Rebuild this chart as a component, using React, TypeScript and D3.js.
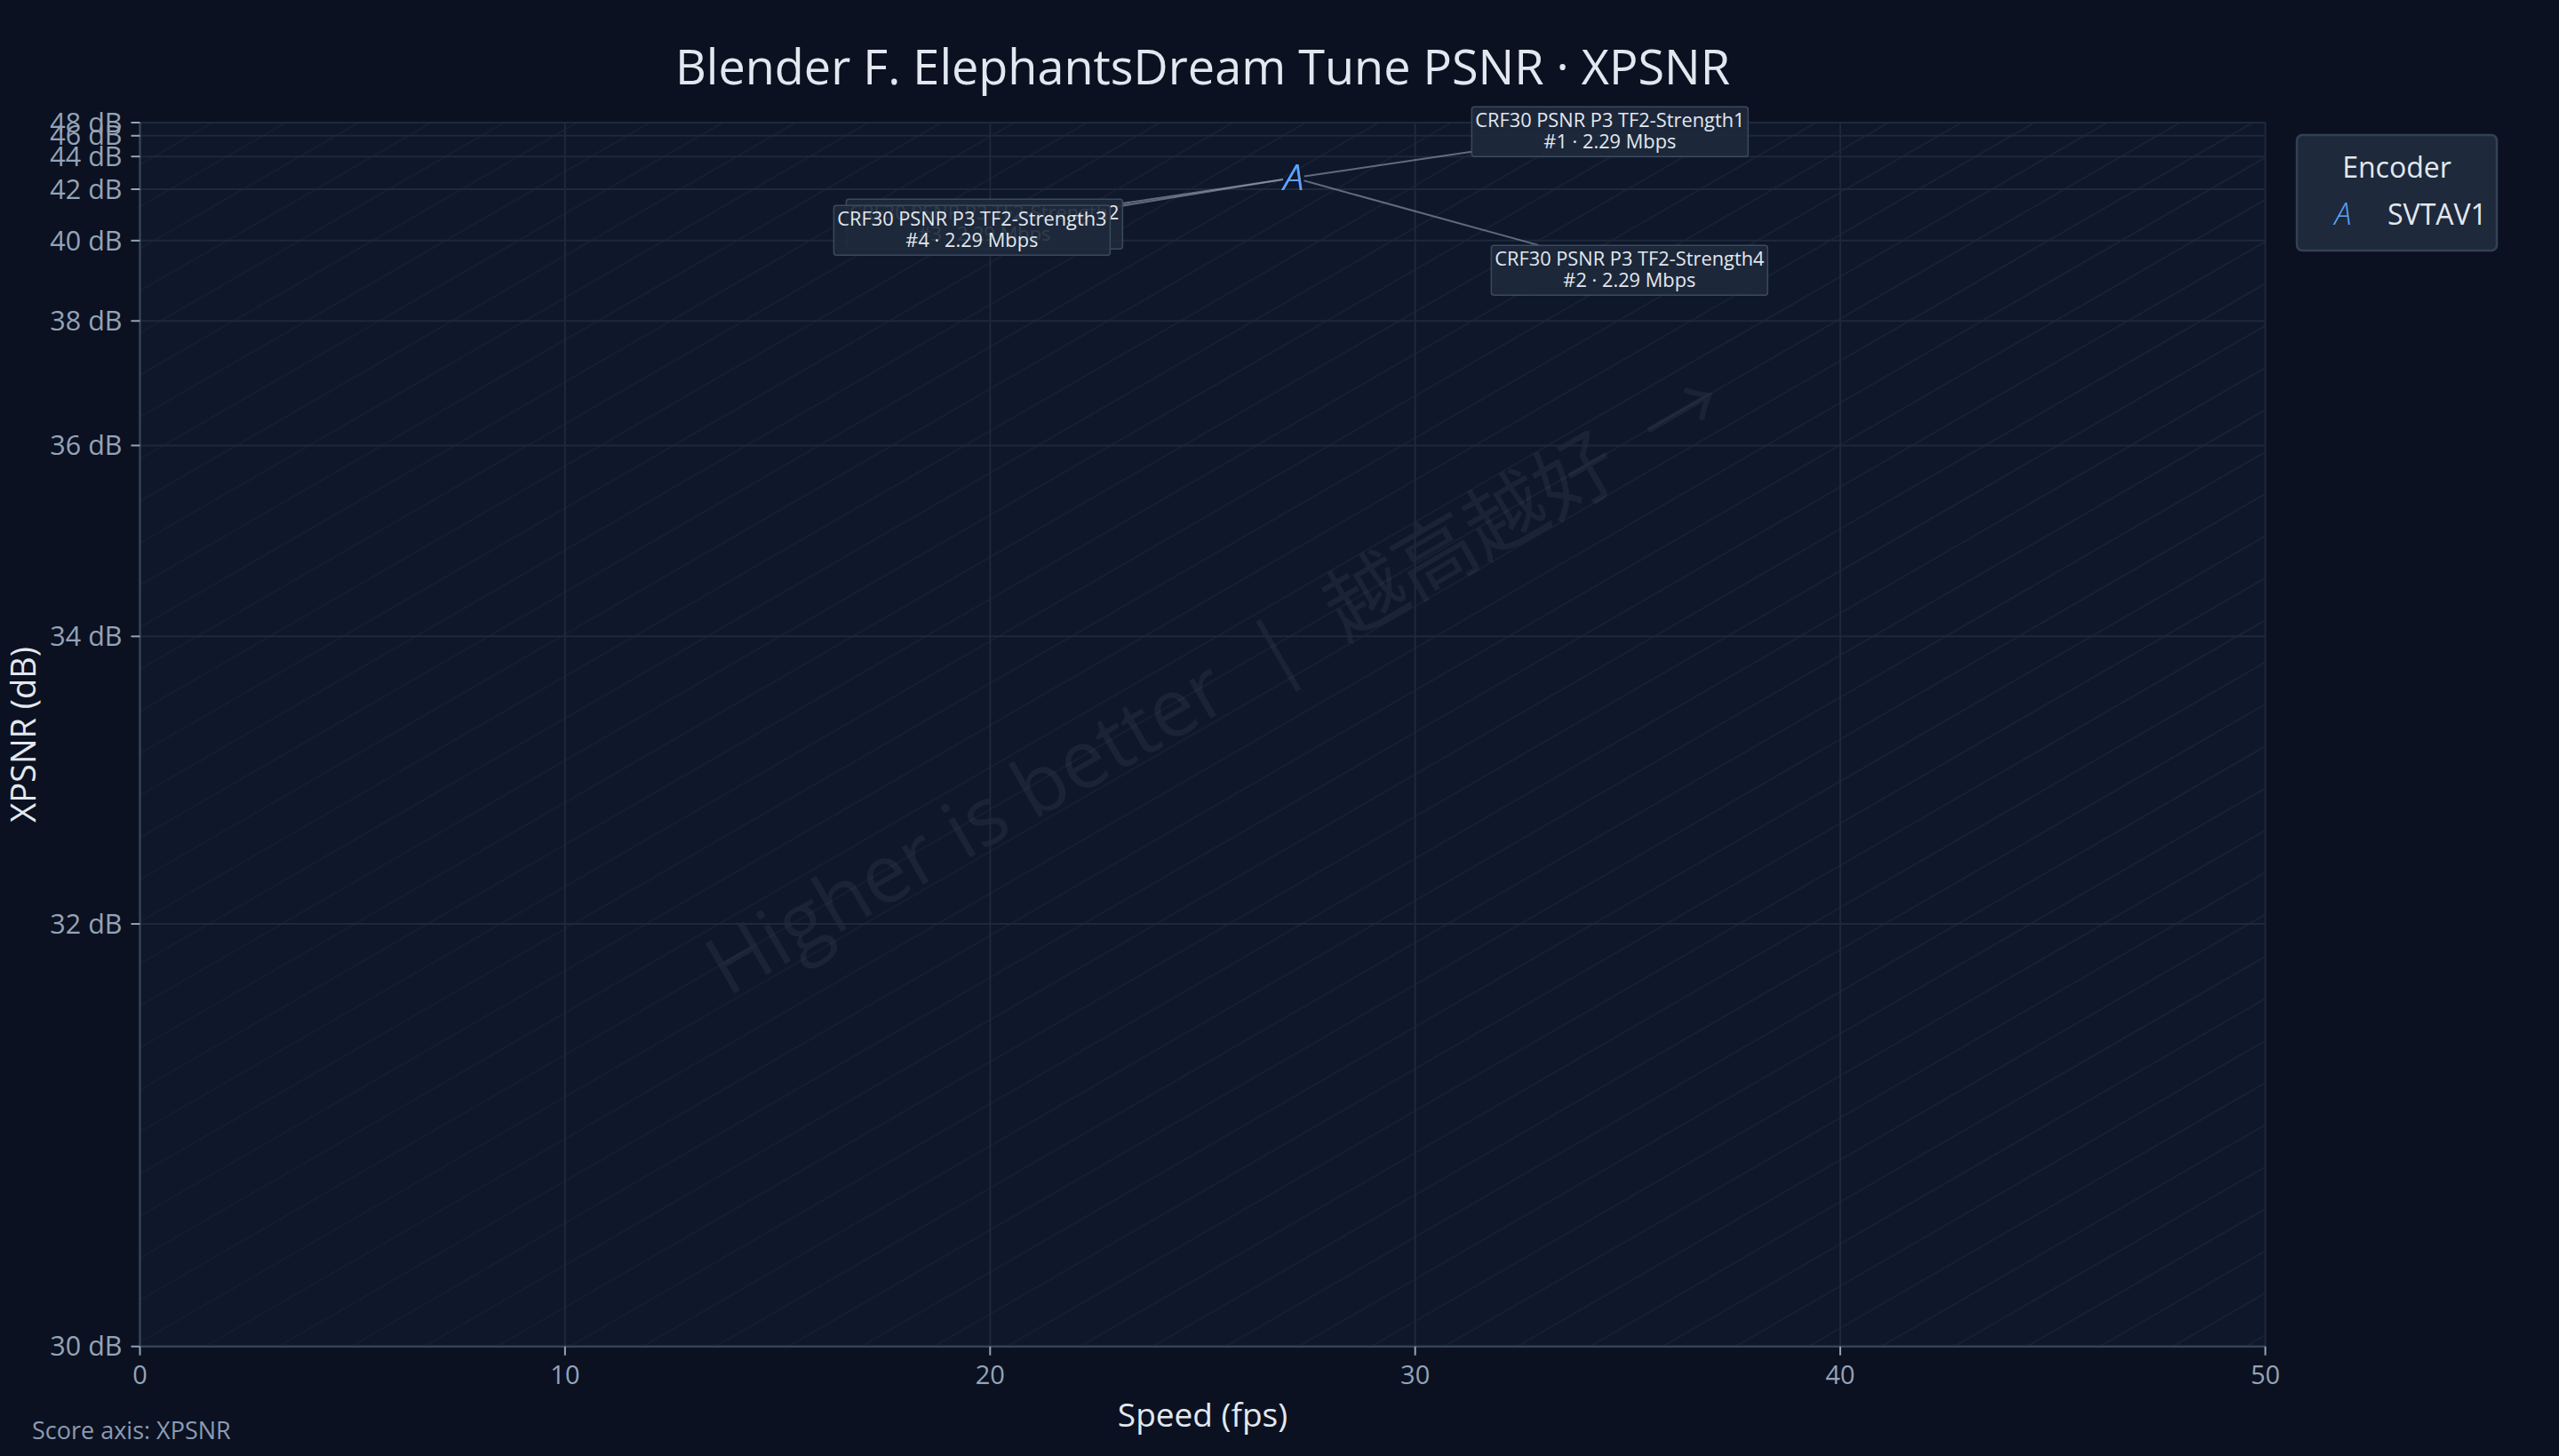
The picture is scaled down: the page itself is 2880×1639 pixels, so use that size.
import { useEffect } from 'react'
import * as d3 from 'd3'

// chart data
const title = 'Blender F. ElephantsDream Tune PSNR · XPSNR'
const encoders = ['SVTAV1']
const encoderSymbols = ['A']
const pointNames = [
  'CRF30 PSNR P3 TF2-Strength1',
  'CRF30 PSNR P3 TF2-Strength4',
  'CRF30 PSNR P3 TF2-Strength2',
  'CRF30 PSNR P3 TF2-Strength3',
]
const pointRanks = [1, 2, 3, 4]
const pointSpeed = [27.14, 27.14, 27.14, 27.14]
const pointXpsnr = [42.6, 42.6, 42.6, 42.6]
const pointBitrate = [2.29, 2.29, 2.29, 2.29]
const xTicks = [0, 10, 20, 30, 40, 50]
const yTicks = [30, 32, 34, 36, 38, 40, 42, 44, 46, 48]

// label placement (box centre offset from the point, px)
const labelOffsets: [number, number][] = [
  [356, -52],
  [378, 104],
  [-348, 52],
  [-362, 59],
]

const W = 2880
const H = 1639
const M = { left: 157.5, right: 2549.5, top: 138, bottom: 1515.7 }
const FONT = '"Segoe UI", "Open Sans", "Noto Sans", "Noto Sans CJK SC", sans-serif'

// PSNR axis is drawn on an error-like scale: linear near 0, log further out
const mse = (db: number) => Math.pow(10, -db / 10) * 1e5

export default function App() {
  useEffect(() => {
    document.body.style.margin = '0'
    document.body.style.background = '#0b1120'
  }, [])

  const x = d3.scaleLinear().domain([0, 50]).range([M.left, M.right])
  const ySym = d3.scaleSymlog().constant(330).domain([mse(48), mse(30)]).range([M.top, M.bottom])
  const y = (v: number) => ySym(mse(v))

  const boxW = 311
  const boxH = 56

  // diagonal hatch lines behind the data
  const ang = (30 * Math.PI) / 180
  const run = (M.bottom - M.top) / Math.tan(ang)
  const hatch = d3.range(M.left - run, M.right + 80, 82)

  const cx = (M.left + M.right) / 2
  const cy = (M.top + M.bottom) / 2
  const wx = cx + 30
  const wy = cy - 30

  return (
    <svg width={W} height={H} style={{ display: 'block', background: '#0b1120' }} fontFamily={FONT}>
      <defs>
        <clipPath id="plotClip">
          <rect x={M.left} y={M.top} width={M.right - M.left} height={M.bottom - M.top} />
        </clipPath>
        <linearGradient id="hatchGrad" gradientUnits="userSpaceOnUse" x1={M.left} y1={M.bottom} x2={M.right} y2={M.top}>
          <stop offset="0%" stopColor="#94a3b8" stopOpacity={0.035} />
          <stop offset="100%" stopColor="#94a3b8" stopOpacity={0.08} />
        </linearGradient>
      </defs>

      <rect x={M.left} y={M.top} width={M.right - M.left} height={M.bottom - M.top} fill="#0f172a" />

      <g clipPath="url(#plotClip)">
        {hatch.map((x0, i) => (
          <line key={i} x1={x0} y1={M.bottom} x2={x0 + run} y2={M.top} stroke="url(#hatchGrad)" strokeWidth={1.8} />
        ))}
        <text
          x={wx}
          y={wy}
          transform={`rotate(-30 ${wx} ${wy})`}
          textAnchor="middle"
          fontSize={91}
          fill="#94a3b8"
          fillOpacity={0.09}
          fontFamily={'"Open Sans", "Noto Sans CJK SC", sans-serif'}
          style={{ whiteSpace: 'pre' }}
        >
          {'Higher is better  |  越高越好  →'}
        </text>
      </g>

      {/* grid */}
      {yTicks.map(t => (
        <line key={'gy' + t} x1={M.left} x2={M.right} y1={y(t)} y2={y(t)} stroke="#1e293b" strokeWidth={2} />
      ))}
      {xTicks.map(t => (
        <line key={'gx' + t} x1={x(t)} x2={x(t)} y1={M.top} y2={M.bottom} stroke="#1e293b" strokeWidth={2} />
      ))}

      {/* axes */}
      <line x1={M.left} x2={M.left} y1={M.top} y2={M.bottom} stroke="#334155" strokeWidth={2.5} />
      <line x1={M.left} x2={M.right} y1={M.bottom} y2={M.bottom} stroke="#334155" strokeWidth={2.5} />
      {yTicks.map(t => (
        <g key={'ty' + t}>
          <line x1={M.left - 10} x2={M.left} y1={y(t)} y2={y(t)} stroke="#94a3b8" strokeWidth={2} />
          <text x={M.left - 20} y={y(t)} dy="0.35em" textAnchor="end" fontSize={30.5} fill="#94a3b8">
            {t} dB
          </text>
        </g>
      ))}
      {xTicks.map(t => (
        <g key={'tx' + t}>
          <line x1={x(t)} x2={x(t)} y1={M.bottom} y2={M.bottom + 10} stroke="#94a3b8" strokeWidth={2} />
          <text x={x(t)} y={1558} textAnchor="middle" fontSize={29} fill="#94a3b8">
            {t}
          </text>
        </g>
      ))}

      <text x={cx} y={1606} textAnchor="middle" fontSize={37} fill="#e2e8f0">
        Speed (fps)
      </text>
      <text x={40} y={cy} transform={`rotate(-90 40 ${cy})`} textAnchor="middle" fontSize={38} fill="#e2e8f0">
        XPSNR (dB)
      </text>
      <text x={cx} y={95} textAnchor="middle" fontSize={54} fill="#e2e8f0">
        {title}
      </text>
      <text x={36} y={1620} fontSize={27} fill="#8b9bb4">
        Score axis: XPSNR
      </text>

      {/* leader lines */}
      {pointNames.map((_, i) => {
        const px = x(pointSpeed[i])
        const py = y(pointXpsnr[i])
        const bx = px + labelOffsets[i][0]
        const by = py + labelOffsets[i][1]
        const dx = bx - px
        const dy = by - py
        const tEdge = Math.min(Math.abs((boxW / 2) / dx) || Infinity, Math.abs((boxH / 2) / dy) || Infinity)
        const ex = bx - dx * tEdge
        const ey = by - dy * tEdge
        const len = Math.hypot(dx, dy)
        const sx = px + (dx / len) * 12
        const sy = py + (dy / len) * 12
        return <line key={'ld' + i} x1={sx} y1={sy} x2={ex} y2={ey} stroke="#94a3b8" strokeOpacity={0.6} strokeWidth={2} />
      })}

      {/* points */}
      {pointNames.map((_, i) => (
        <text
          key={'pt' + i}
          x={x(pointSpeed[i])}
          y={y(pointXpsnr[i])}
          dy="0.35em"
          textAnchor="middle"
          fontSize={41}
          fontStyle="italic"
          fontWeight={300}
          fill="#60a5fa"
        >
          {encoderSymbols[0]}
        </text>
      ))}

      {/* labels */}
      {pointNames.map((name, i) => {
        const bx = x(pointSpeed[i]) + labelOffsets[i][0]
        const by = y(pointXpsnr[i]) + labelOffsets[i][1]
        return (
          <g key={'lb' + i}>
            <rect x={bx - boxW / 2} y={by - boxH / 2} width={boxW} height={boxH} rx={3} fill="#1e293b" fillOpacity={0.9} stroke="#3b4a5f" strokeWidth={1.5} />
            <text x={bx} y={by - 5} textAnchor="middle" fontSize={21.8} fill="#e2e8f0">
              {name}
            </text>
            <text x={bx} y={by + 19} textAnchor="middle" fontSize={21.8} fill="#e2e8f0">
              #{pointRanks[i]} · {pointBitrate[i].toFixed(2)} Mbps
            </text>
          </g>
        )
      })}

      {/* legend */}
      <g>
        <rect x={2585} y={152} width={225} height={130} rx={6} fill="#1e293b" stroke="#334155" strokeWidth={2.5} />
        <text x={2697.5} y={200} textAnchor="middle" fontSize={32} fill="#e2e8f0">
          Encoder
        </text>
        {encoders.map((e, i) => (
          <g key={e}>
            <text x={2637} y={253 + i * 44} textAnchor="middle" fontSize={34} fontStyle="italic" fontWeight={300} fill="#60a5fa">
              {encoderSymbols[i]}
            </text>
            <text x={2687} y={253 + i * 44} fontSize={32} fill="#e2e8f0">
              {e}
            </text>
          </g>
        ))}
      </g>
    </svg>
  )
}
